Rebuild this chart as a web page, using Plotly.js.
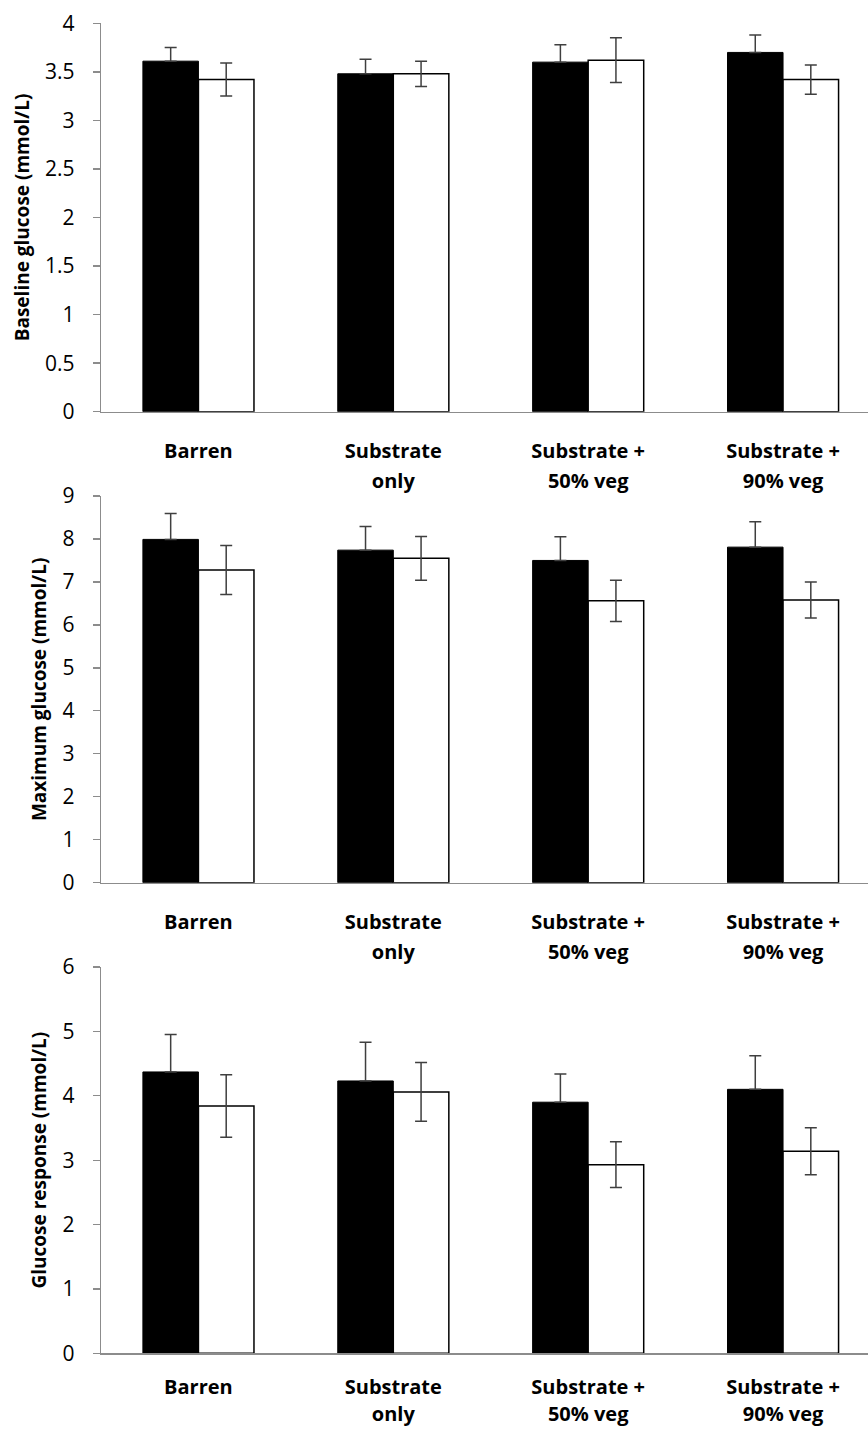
<!DOCTYPE html>
<html>
<head>
<meta charset="utf-8">
<script src="https://cdn.plot.ly/plotly-3.0.1.min.js"></script>
<style>html,body{margin:0;padding:0;background:#fff;}#chart{width:868px;height:1429px;}</style>
</head>
<body>
<div id="chart"></div>
<script>
// ---- data ----
const categoryLine1 = ['Barren', 'Substrate', 'Substrate +', 'Substrate +'];
const categoryLine2 = ['', 'only', '50% veg', '90% veg'];
const categoryPos = [0, 1, 2, 3];

const baselineBlack = [3.61, 3.48, 3.60, 3.70];
const baselineBlackSE = [0.14, 0.15, 0.18, 0.18];
const baselineWhite = [3.42, 3.48, 3.62, 3.42];
const baselineWhiteSE = [0.17, 0.13, 0.23, 0.15];

const maximumBlack = [7.99, 7.74, 7.50, 7.81];
const maximumBlackSE = [0.60, 0.55, 0.55, 0.59];
const maximumWhite = [7.28, 7.55, 6.56, 6.58];
const maximumWhiteSE = [0.57, 0.51, 0.48, 0.42];

const responseBlack = [4.37, 4.23, 3.90, 4.10];
const responseBlackSE = [0.58, 0.60, 0.44, 0.52];
const responseWhite = [3.84, 4.06, 2.93, 3.14];
const responseWhiteSE = [0.485, 0.455, 0.355, 0.365];

const yTitles = ['Baseline glucose (mmol/L)', 'Maximum glucose (mmol/L)', 'Glucose response (mmol/L)'];
const yRanges = [[0, 4], [0, 9], [0, 6]];
const yDticks = [0.5, 1, 1];

// ---- layout helpers ----
const H = 1429, W = 868;
const panelsPx = [[23.3, 411.7], [496, 882.7], [967, 1353.3]];
const labelStandoff1 = [21, 21, 15];
const labelStandoff2 = [51, 51, 43];
const xDomain = [101 / W, 1];
const xRange = [-0.5, 3.436];
const FONT = 'Open Sans, Liberation Sans, sans-serif';
const errColor = '#3f3f3f';

const panels = [
  [baselineBlack, baselineBlackSE, baselineWhite, baselineWhiteSE],
  [maximumBlack, maximumBlackSE, maximumWhite, maximumWhiteSE],
  [responseBlack, responseBlackSE, responseWhite, responseWhiteSE]
];

const traces = [];
const layout = {
  width: W, height: H,
  margin: {l: 0, r: 0, t: 0, b: 0},
  paper_bgcolor: '#fff', plot_bgcolor: 'rgba(0,0,0,0)',
  showlegend: false,
  barmode: 'group', bargap: 0.43, bargroupgap: 0,
  font: {family: FONT, color: '#000'}
};

panels.forEach((p, i) => {
  const n = i + 1;
  const xs = n === 1 ? '' : String(n);
  const xa = 'x' + xs, ya = 'y' + xs;
  traces.push({
    type: 'bar', x: categoryPos, y: p[0], xaxis: xa, yaxis: ya,
    marker: {color: '#000', line: {color: '#000', width: 1}},
    error_y: {type: 'data', symmetric: false, array: p[1], arrayminus: p[1].map(() => 0),
              color: errColor, thickness: 1.5, width: 6},
    hoverinfo: 'skip'
  });
  traces.push({
    type: 'bar', x: categoryPos, y: p[2], xaxis: xa, yaxis: ya,
    marker: {color: '#fff', line: {color: '#000', width: 1.5}},
    error_y: {type: 'data', array: p[3], color: errColor, thickness: 1.5, width: 6},
    hoverinfo: 'skip'
  });
  const dom = [1 - panelsPx[i][1] / H, 1 - panelsPx[i][0] / H];
  layout['xaxis' + xs] = {
    domain: xDomain, range: xRange, anchor: ya,
    tickmode: 'array', tickvals: categoryPos, ticktext: categoryLine1,
    ticks: 'outside', ticklen: 0, ticklabelstandoff: labelStandoff1[i],
    tickfont: {family: FONT, size: 20, color: '#000', weight: 'bold'},
    showline: true, linecolor: '#8c8c8c', linewidth: 1.3,
    showgrid: false, zeroline: false, fixedrange: true
  };
  // second line of the category labels, on an overlaid axis
  const xs2 = String(n + 3);
  traces.push({type: 'scatter', mode: 'markers', x: [], y: [], xaxis: 'x' + xs2, yaxis: ya,
               hoverinfo: 'skip', showlegend: false});
  layout['xaxis' + xs2] = {
    domain: xDomain, range: xRange, anchor: ya, overlaying: xa, side: 'bottom',
    tickmode: 'array', tickvals: categoryPos, ticktext: categoryLine2,
    ticks: 'outside', ticklen: 0, ticklabelstandoff: labelStandoff2[i],
    tickfont: {family: FONT, size: 20, color: '#000', weight: 'bold'},
    showline: false, showgrid: false, zeroline: false, fixedrange: true
  };
  layout['yaxis' + xs] = {
    domain: dom, range: yRanges[i], anchor: xa, dtick: yDticks[i], tick0: 0,
    ticks: 'outside', ticklen: 7, tickcolor: '#8c8c8c', tickwidth: 1.3,
    ticklabelstandoff: 14,
    tickfont: {family: FONT, size: 21, color: '#000'},
    showline: true, linecolor: '#8c8c8c', linewidth: 1.3,
    showgrid: false, zeroline: false, fixedrange: true,
    title: {text: yTitles[i], font: {family: FONT, size: 19, color: '#000', weight: 'bold'}, standoff: 10}
  };
});

Plotly.newPlot('chart', traces, layout, {displayModeBar: false, staticPlot: true});
</script>
</body>
</html>
